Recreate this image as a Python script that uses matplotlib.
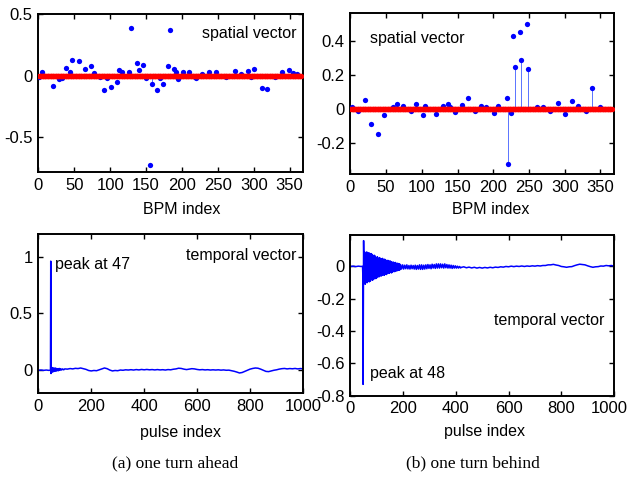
import numpy as np
import matplotlib
matplotlib.use("Agg")
import matplotlib.pyplot as plt
from matplotlib.transforms import ScaledTranslation

plt.rcParams['font.family'] = ['Liberation Sans', 'DejaVu Sans']

# =========================
# DATA
# =========================
n_bpm = 366

# one turn ahead: spatial vector (index, value)
bpm_a_idx = [1, 5, 20, 29, 33, 38, 44, 47, 57, 65, 74, 78, 86, 92, 95, 101, 110,
             112, 116, 126, 129, 137, 140, 146, 150, 156, 158, 165, 170, 174, 180,
             184, 189, 192, 195, 201, 210, 218, 220, 228, 238, 248, 262, 274, 282,
             292, 296, 301, 311, 318, 330, 339, 349, 355, 360]
bpm_a_val = [-0.01, 0.027, -0.087, -0.025, -0.02, 0.063, 0.027, 0.128, 0.12, 0.055,
             0.074, 0.022, -0.015, -0.12, -0.019, -0.09, -0.05, 0.046, 0.027, 0.027,
             0.388, 0.104, 0.049, 0.087, -0.02, -0.73, -0.071, -0.115, -0.02, -0.068,
             0.074, 0.369, 0.057, 0.03, -0.025, 0.027, 0.027, -0.014, -0.02, 0.016,
             0.027, 0.027, -0.012, 0.035, 0.015, 0.035, -0.015, 0.057, -0.1, -0.109,
             -0.012, 0.027, 0.044, 0.02, 0.015]
bpm_a_stems = [158]

# one turn behind: spatial vector
bpm_b_idx = [2, 10, 20, 29, 38, 47, 60, 65, 74, 85, 92, 101, 104, 120, 129, 137,
             140, 146, 156, 165, 175, 183, 190, 201, 207, 219, 221, 225, 228, 230,
             237, 239, 247, 248, 261, 270, 280, 291, 300, 310, 319, 330, 338, 350]
bpm_b_val = [0.012, -0.01, 0.051, -0.086, -0.148, -0.037, 0.012, 0.031, 0.02, -0.01,
             0.029, -0.037, 0.016, -0.027, 0.02, 0.027, 0.012, -0.02, 0.023, 0.066,
             -0.01, 0.02, 0.012, -0.023, 0.016, 0.062, -0.32, -0.021, 0.425, 0.246,
             0.452, 0.285, 0.5, 0.234, 0.012, 0.012, -0.01, 0.035, -0.029, 0.048,
             0.018, -0.01, 0.123, 0.01]
bpm_b_stems = [221, 230, 239, 248, 338]

# red reference series, sits on zero in both panels
red_val = np.zeros(n_bpm)

# one turn ahead: temporal vector
pulse_a_x = [0, 10, 20, 30, 40, 46, 47, 48, 49, 50, 52, 54, 56, 58, 60, 62, 64, 66,
             68, 70, 73, 76, 79, 82, 85, 88, 92, 96, 100,
             110, 120, 130, 140, 150, 160, 170, 180, 190, 200, 210, 220, 230, 240,
             250, 260, 270, 280, 290, 300, 310, 320, 330, 340, 350, 360, 370, 380,
             390, 400, 410, 420, 430, 440, 450, 460, 470, 480, 490, 500, 510, 520,
             530, 540, 550, 560, 570, 580, 590, 600, 610, 620, 630, 640, 650, 660,
             670, 680, 690, 700, 710, 720, 730, 740, 750, 760, 770, 780, 790, 800,
             810, 820, 830, 840, 850, 860, 870, 880, 890, 900, 910, 920, 930, 940,
             950, 960, 970, 980, 990, 1000]
pulse_a_y = [-0.006, -0.004, -0.007, -0.004, -0.007, -0.005, 0.96, -0.035, 0.02,
             -0.025, 0.018, -0.02, 0.015, -0.018, 0.012, -0.015, 0.014, -0.012, 0.01,
             -0.012, 0.008, -0.01, 0.01, -0.006, 0.008, -0.004, 0.006, -0.002, 0.006,
             0.004, 0.009, 0.006, 0.011, 0.009, 0.014, 0.008, 0.002, -0.008, -0.012,
             -0.008, -0.01, -0.002, 0.006, 0.014, 0.008, -0.004, -0.012, -0.008,
             -0.01, -0.004, -0.006, -0.002, -0.004, -0.001, -0.004, 0.0, -0.003,
             0.001, -0.002, 0.001, -0.002, 0.0, -0.003, 0.0, -0.003, -0.001, -0.004,
             0.0, -0.002, 0.003, 0.006, 0.012, 0.01, 0.004, 0.0, 0.004, 0.008, 0.006,
             0.001, -0.002, 0.0, -0.003, -0.001, -0.004, -0.002, -0.004, -0.002,
             -0.005, -0.003, -0.006, -0.005, -0.01, -0.015, -0.022, -0.03, -0.026,
             -0.016, -0.006, 0.004, 0.01, 0.014, 0.012, 0.004, -0.006, -0.016, -0.018,
             -0.012, -0.006, -0.002, 0.004, 0.008, 0.01, 0.006, 0.009, 0.007, 0.01,
             0.006, 0.009, 0.007]

# one turn behind: temporal vector
pulse_b_x = ([0, 10, 20, 30, 40, 46, 47, 48, 50]
             + list(range(52, 190, 2))
             + list(range(190, 420, 4))
             + list(range(420, 1001, 10)))
pulse_b_y = [0.0, 0.002, -0.001, 0.002, 0.0, 0.001, -0.05, -0.73, 0.16,
             # 52 .. 188, step 2
             -0.10, 0.09, -0.11, 0.08, -0.10, 0.09, -0.10, 0.075, -0.09, 0.085,
             -0.095, 0.07, -0.09, 0.08, -0.08, 0.075, -0.085, 0.06, -0.08, 0.07,
             -0.07, 0.065, -0.075, 0.055, -0.07, 0.06, -0.06, 0.05, -0.065, 0.055,
             -0.055, 0.05, -0.06, 0.045, -0.055, 0.05, -0.05, 0.042, -0.055, 0.045,
             -0.045, 0.04, -0.05, 0.035, -0.045, 0.038, -0.04, 0.03, -0.042, 0.035,
             -0.035, 0.03, -0.04, 0.025, -0.035, 0.028, -0.03, 0.022, -0.032, 0.025,
             -0.026, 0.02, -0.028, 0.02, -0.024, 0.018, -0.024, 0.016, -0.02,
             # 190 .. 418, step 4
             0.012, -0.016, 0.01, -0.016, 0.008, -0.014, 0.01, -0.015, 0.006, -0.016,
             0.008, -0.014, 0.006, -0.016, 0.008, -0.018, 0.006, -0.016, 0.01, -0.018,
             0.01, -0.018, 0.008, -0.016, 0.01, -0.014, 0.012, -0.012, 0.01, -0.014,
             0.014, -0.01, 0.012, -0.012, 0.016, -0.01, 0.016, -0.01, 0.016, -0.008,
             0.014, -0.01, 0.016, -0.008, 0.012, -0.01, 0.01, -0.01, 0.008, -0.012,
             0.006, -0.01, 0.004, -0.01, 0.002, -0.01, 0.0, -0.009,
             # 420 .. 1000, step 10
             -0.006, -0.002, -0.008, -0.004, -0.009, -0.005, -0.01, -0.006, -0.01,
             -0.006, -0.009, -0.005, -0.008, -0.004, -0.006, -0.002, -0.004, 0.0,
             -0.002, 0.002, -0.001, 0.002, 0.0, 0.003, 0.0, 0.003, 0.001, 0.004,
             0.002, 0.005, 0.003, 0.006, 0.006, 0.01, 0.01, 0.013, 0.009, 0.006, 0.0,
             -0.002, -0.005, -0.002, -0.001, 0.005, 0.01, 0.014, 0.012, 0.01, 0.004,
             -0.001, -0.005, -0.002, -0.001, 0.003, 0.002, 0.006, 0.004, 0.006, 0.002]

BLUE = (0, 0, 1)
RED = (1, 0, 0)
FS = 11.5
TICK_FS = 12


def style_axes(ax):
    for s in ax.spines.values():
        s.set_linewidth(1.4)
    ax.tick_params(direction='in', length=3.5, width=1, top=True, right=True,
                   labelsize=TICK_FS, pad=4)


def spatial_panel(ax, idx, val, stems, ylim, yticks):
    lookup = dict(zip(idx, val))
    ax.vlines(stems, 0, [lookup[i] for i in stems], color=(0.35, 0.45, 1.0), lw=0.7, zorder=2)
    ax.plot(idx, val, 'o', ms=3.8, color=BLUE, mec='none', zorder=3)
    ax.plot(np.arange(1, n_bpm + 1), red_val, 'o', ms=3.9, color=RED, mec='none', zorder=4)
    ax.set_xlim(0, 369)
    ax.set_ylim(*ylim)
    ax.set_xticks(range(0, 351, 50))
    ax.set_yticks(yticks)
    ax.set_yticklabels([f'{t:g}' for t in yticks])
    style_axes(ax)


fig = plt.figure(figsize=(6.28, 4.83), dpi=100)

# =========================
# SPATIAL VECTORS
# =========================
ax1 = fig.add_axes([0.061, 0.6433, 0.422, 0.3271])
spatial_panel(ax1, bpm_a_idx, bpm_a_val, bpm_a_stems, (-0.79, 0.5), [-0.5, 0, 0.5])
ax1.text(0.976, 0.88, 'spatial vector', transform=ax1.transAxes, ha='right', va='center', fontsize=FS)
ax1.text(0.54, -0.238, 'BPM index', transform=ax1.transAxes, ha='center', va='center', fontsize=FS)

ax2 = fig.add_axes([0.558, 0.6398, 0.4197, 0.3327])
spatial_panel(ax2, bpm_b_idx, bpm_b_val, bpm_b_stems, (-0.38, 0.56), [-0.2, 0, 0.2, 0.4])
ax2.text(0.073, 0.84, 'spatial vector', transform=ax2.transAxes, ha='left', va='center', fontsize=FS)
ax2.text(0.534, -0.224, 'BPM index', transform=ax2.transAxes, ha='center', va='center', fontsize=FS)

# =========================
# TEMPORAL VECTORS
# =========================
ax3 = fig.add_axes([0.061, 0.1857, 0.4215, 0.3298])
ax3.plot(pulse_a_x, pulse_a_y, color=BLUE, lw=1.1)
ax3.set_xlim(0, 1000)
ax3.set_ylim(-0.21, 1.2)
ax3.set_xticks(range(0, 1001, 200))
ax3.set_yticks([0, 0.5, 1])
ax3.set_yticklabels(['0', '0.5', '1'])
style_axes(ax3)
ax3.text(0.975, 0.868, 'temporal vector', transform=ax3.transAxes, ha='right', va='center', fontsize=FS)
ax3.text(63, 0.926, 'peak at 47', ha='left', va='center', fontsize=FS)
ax3.text(0.537, -0.243, 'pulse index', transform=ax3.transAxes, ha='center', va='center', fontsize=FS)

ax4 = fig.add_axes([0.558, 0.1808, 0.4197, 0.3327])
ax4.plot(pulse_b_x, pulse_b_y, color=BLUE, lw=1.1)
ax4.set_xlim(0, 1000)
ax4.set_ylim(-0.8, 0.195)
ax4.set_xticks(range(0, 1001, 200))
ax4.set_yticks([-0.8, -0.6, -0.4, -0.2, 0])
ax4.set_yticklabels(['-0.8', '-0.6', '-0.4', '-0.2', '0'])
style_axes(ax4)
ax4.text(0.962, -0.3375, 'temporal vector', transform=ax4.get_yaxis_transform(), ha='right', va='center', fontsize=FS)
ax4.text(73, -0.664, 'peak at 48', ha='left', va='center', fontsize=FS)
ax4.text(0.51, -0.226, 'pulse index', transform=ax4.transAxes, ha='center', va='center', fontsize=FS)

# keep the last "1000" inside the figure edge
last = ax4.get_xticklabels()[-1]
last.set_transform(last.get_transform() + ScaledTranslation(-0.05, 0, fig.dpi_scale_trans))

# =========================
# CAPTIONS
# =========================
fig.text(175 / 628, 1 - 463 / 483, '(a) one turn ahead', ha='center', va='center',
         family='Liberation Serif', fontsize=12.5)
fig.text(473 / 628, 1 - 463 / 483, '(b) one turn behind', ha='center', va='center',
         family='Liberation Serif', fontsize=12.5)

fig.savefig('out.png', dpi=100)
